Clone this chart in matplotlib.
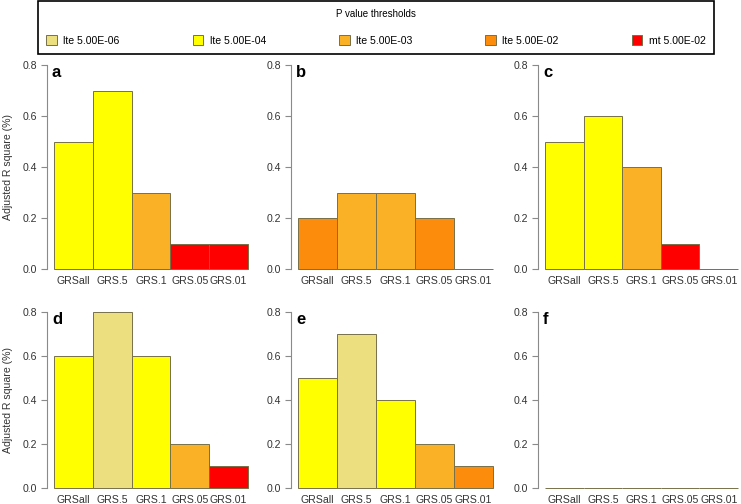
import matplotlib
matplotlib.use("Agg")
import matplotlib.pyplot as plt
from matplotlib.patches import Patch

plt.rcParams["font.family"] = ["Liberation Sans", "DejaVu Sans"]

groups = ["GRSall", "GRS.5", "GRS.1", "GRS.05", "GRS.01"]
thresholds = ["lte 5.00E-06", "lte 5.00E-04", "lte 5.00E-03", "lte 5.00E-02", "mt 5.00E-02"]
threshold_colors = ["#EBDF7F", "#FFFF00", "#FBB125", "#FB8C0C", "#FF0000"]

# adjusted R square per panel, and index of the p value threshold of each bar
r2_a = [0.5, 0.7, 0.3, 0.1, 0.1]
p_a = [1, 1, 2, 4, 4]
r2_b = [0.2, 0.3, 0.3, 0.2, 0.0]
p_b = [3, 2, 2, 3, 4]
r2_c = [0.5, 0.6, 0.4, 0.1, 0.0]
p_c = [1, 1, 2, 4, 4]
r2_d = [0.6, 0.8, 0.6, 0.2, 0.1]
p_d = [1, 0, 1, 2, 4]
r2_e = [0.5, 0.7, 0.4, 0.2, 0.1]
p_e = [1, 0, 1, 2, 3]
r2_f = [0.0, 0.0, 0.0, 0.0, 0.0]
p_f = [4, 4, 4, 4, 4]

panels = [("a", r2_a, p_a), ("b", r2_b, p_b), ("c", r2_c, p_c),
          ("d", r2_d, p_d), ("e", r2_e, p_e), ("f", r2_f, p_f)]

W, H = 741, 504
fig = plt.figure(figsize=(W / 100, H / 100), dpi=100)

lefts = [47, 291, 538]
widths = [201, 202, 200]
rows = [(65, 269), (312, 488)]
edge = "#77704a"
axis_grey = "#8a8a8a"
fs = 7.6

for k, (letter, vals, pidx) in enumerate(panels):
    r, c = divmod(k, 3)
    top, bottom = rows[r]
    ax = fig.add_axes([lefts[c] / W, 1 - bottom / H, widths[c] / W, (bottom - top) / H])
    ax.bar(range(len(groups)), vals, width=1, align="edge",
           color=[threshold_colors[i] for i in pidx],
           edgecolor=edge, linewidth=0.7, clip_on=False)
    ax.set_xlim(-0.18, len(groups))
    ax.set_ylim(0, 0.8)

    for s in ["top", "right", "bottom"]:
        ax.spines[s].set_visible(False)
    ax.spines["left"].set_color(axis_grey)
    ax.spines["left"].set_linewidth(0.8)
    ax.spines["left"].set_bounds(0, 0.8)

    ax.set_yticks([0, 0.2, 0.4, 0.6, 0.8])
    ax.set_yticklabels([f"{v:.1f}" for v in [0, 0.2, 0.4, 0.6, 0.8]])
    ax.set_xticks([i + 0.5 for i in range(len(groups))])
    ax.set_xticklabels(groups)
    ax.tick_params(axis="y", length=4, width=0.8, color=axis_grey,
                   labelsize=fs, labelcolor="#333333", pad=3)
    ax.tick_params(axis="x", length=0, labelsize=fs, labelcolor="#333333", pad=5)

    ax.text(5 / widths[c], 1.0, letter, transform=ax.transAxes,
            fontsize=12, fontweight="bold", va="top", ha="left")

    if c == 0:
        fig.text(8 / W, 1 - (top + bottom) / 2 / H, "Adjusted R square (%)",
                 rotation=90, ha="center", va="center", fontsize=fs, color="#333333")

handles = [Patch(facecolor=col, edgecolor=edge, linewidth=0.7) for col in threshold_colors]
leg = fig.legend(handles, thresholds, ncol=5, title="P value thresholds",
                 loc="upper left", mode="expand",
                 bbox_to_anchor=(38 / W, 1 - 52 / H, 676 / W, 51 / H),
                 borderaxespad=0, fontsize=7.6, title_fontsize=7,
                 handlelength=1.0, handleheight=1.1, handletextpad=0.6,
                 labelspacing=1.5, borderpad=0.8, fancybox=False,
                 edgecolor="black", framealpha=1)
leg.get_frame().set_linewidth(1.2)

fig.savefig("out.png", dpi=100)
